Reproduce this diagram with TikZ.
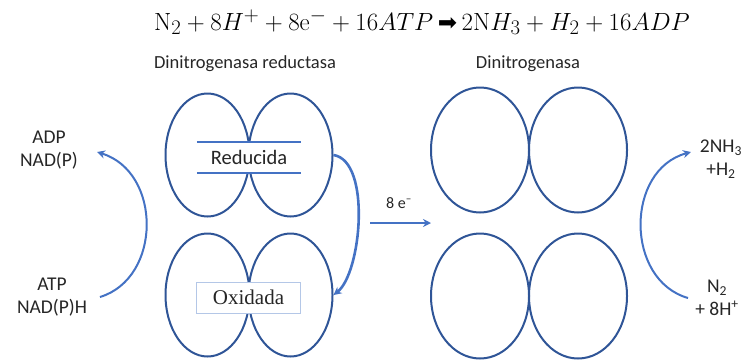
\documentclass[tikz,border=0pt]{standalone}
\usepackage[no-math]{fontspec}
\setmainfont{Carlito}
\newfontfamily\serifrm{Liberation Serif}
\newfontfamily\dejavu{DejaVu Sans}
\usetikzlibrary{arrows.meta,shapes.geometric}
\definecolor{ellblue}{HTML}{2F5597}
\definecolor{arrblue}{HTML}{4472C4}
\definecolor{boxline}{HTML}{B4C7E7}
\definecolor{txt}{HTML}{262626}
\begin{document}
\begin{tikzpicture}[x=1pt,y=-1pt,
  ellL/.style={draw=ellblue, line width=2pt, ellipse, inner sep=0pt, minimum width=84pt, minimum height=123pt},
  ellR/.style={draw=ellblue, line width=2pt, ellipse, inner sep=0pt, minimum width=98pt, minimum height=125pt},
  flow/.style={draw=arrblue, line width=2pt, -{Stealth[length=8pt,width=8pt]}},
  heading/.style={text=txt, font=\fontsize{18.5}{20}\selectfont, inner sep=0pt},
  sidelbl/.style={text=txt, font=\fontsize{19.5}{23}\selectfont, align=center, inner sep=0pt},
  statebox/.style={fill=white, inner sep=0pt, minimum width=104pt, minimum height=31pt, text=txt}
]
\useasboundingbox (0,0) rectangle (746,362);
% equation
\node[inner sep=0pt] (eq) at (422,22) {\fontsize{27.5}{30}\selectfont $\mathrm{N}_2 + 8H^+ + 8\mathrm{e}^- + 16ATP$\,{\dejavu\fontsize{23}{25}\selectfont ➡}\,$2\mathrm{N}H_3 + H_2 + 16ADP$};
% headings
\node[heading] (hred) at (245,64) {Dinitrogenasa reductasa};
\node[heading] (hnit) at (528,64) {Dinitrogenasa};
% left group
\node[ellL] (a1) at (207.5,155) {};
\node[ellL] (a2) at (290.5,155) {};
\node[ellL] (b1) at (207.5,295) {};
\node[ellL] (b2) at (290.5,295) {};
% right group
\node[ellR] (c1) at (480,150) {};
\node[ellR] (c2) at (578,150) {};
\node[ellR] (d1) at (480,296) {};
\node[ellR] (d2) at (578,296) {};
% state boxes
\node[statebox, font=\fontsize{20.5}{22}\selectfont] (red) at (249,157.5) {Reducida};
\draw[arrblue, line width=1.5pt] (red.north west) -- (red.north east);
\draw[arrblue, line width=1.5pt] (red.south west) -- (red.south east);
\node[statebox, draw=boxline, line width=1pt, font=\serifrm\fontsize{21}{23}\selectfont] (oxi) at (248.5,297.5) {Oxidada};
% middle curved arrow
\draw[flow, line width=2.6pt] (a2.east) .. controls +(38,6) and +(28,-22) .. (b2.east);
% electron transfer arrow
\coordinate (e1) at (370,223);
\coordinate (e2) at (431,223);
\draw[flow] (e1) -- (e2);
\node[text=txt, font=\fontsize{16}{18}\selectfont, inner sep=0pt] (elab) at (399,203) {8 e\textsuperscript{–}};
% left side
\node[sidelbl] (adp) at (49,150) {ADP\\NAD(P)};
\node[sidelbl] (atp) at (52,297) {ATP\\NAD(P)H};
\coordinate (l1) at (100,297);
\coordinate (l2) at (97,152);
\draw[flow] (l1) .. controls (162,278) and (162,172) .. (l2);
% right side
\node[sidelbl] (nh3) at (721,159) {2NH\textsubscript{3}\\+H\textsubscript{2}};
\node[sidelbl] (n2) at (717,298) {N\textsubscript{2}\\+ 8H\textsuperscript{+}};
\coordinate (r1) at (688,298);
\coordinate (r2) at (691,152);
\draw[flow] (r1) .. controls (625,280) and (625,170) .. (r2);
\end{tikzpicture}
\end{document}
